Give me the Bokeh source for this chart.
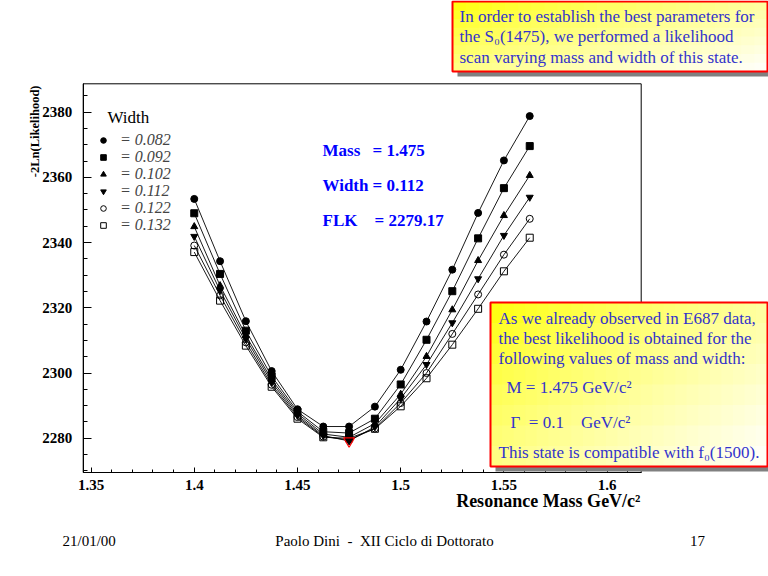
from bokeh.plotting import figure
from bokeh.models import (Label, Legend, LegendItem, BoxAnnotation,
                          SingleIntervalTicker, NumeralTickFormatter)
from bokeh.embed import file_html
from bokeh.resources import INLINE
import numpy as np

# scan points (resonance mass, GeV/c^2) and -2 ln(L) for each width hypothesis
mass = [1.4, 1.4125, 1.425, 1.4375, 1.45, 1.4625, 1.475,
        1.4875, 1.5, 1.5125, 1.525, 1.5375, 1.55, 1.5625]
w082 = [2353.4, 2334.3, 2315.9, 2300.6, 2288.9, 2283.6, 2283.6,
        2289.7, 2301.0, 2315.8, 2331.7, 2349.1, 2365.2, 2378.8]
w092 = [2349.0, 2330.4, 2313.0, 2299.0, 2288.2, 2282.0, 2281.6,
        2286.0, 2296.5, 2310.2, 2325.1, 2341.3, 2356.7, 2369.6]
w102 = [2344.9, 2326.8, 2311.5, 2298.0, 2287.6, 2281.3, 2280.3,
        2284.5, 2293.5, 2305.1, 2319.4, 2334.5, 2348.3, 2360.6]
w112 = [2341.9, 2325.3, 2310.5, 2297.2, 2287.0, 2280.8, 2279.17,
        2283.5, 2292.2, 2302.6, 2315.4, 2328.9, 2342.2, 2353.9]
w122 = [2339.1, 2323.8, 2309.4, 2296.4, 2286.5, 2280.5, 2279.5,
        2283.0, 2290.8, 2300.0, 2312.0, 2324.1, 2336.3, 2347.3]
w132 = [2337.1, 2322.2, 2308.4, 2295.8, 2286.0, 2280.3, 2280.0,
        2282.9, 2289.8, 2298.4, 2308.7, 2319.7, 2331.2, 2341.5]
widths = ["0.082", "0.092", "0.102", "0.112", "0.122", "0.132"]
series = [w082, w092, w102, w112, w122, w132]

# marker style per series
markers = ["circle", "square", "triangle", "inverted_triangle", "circle", "square"]
filled = [True, True, True, True, False, False]

SERIF = "Liberation Serif"
BOXBLUE = "#3333CC"
NB = "\u00a0"

# the plot box (data limits) and where it sits on the slide (pixels)
X0, X1 = 1.3462, 1.6165
Y0, Y1 = 2269.5, 2388.7
BL, BR, BT, BB = 82.7, 640.7, 83.3, 472.0
W, H = 768, 576
# the frame is the whole canvas; extend the ranges out to its edges
kx = (X1 - X0) / (BR - BL)
ky = (Y1 - Y0) / (BB - BT)
xr = (X0 - BL * kx, X1 + (W - BR) * kx)
yr = (Y0 - (H - BB) * ky, Y1 + BT * ky)

p = figure(width=W, height=H, x_range=xr, y_range=yr,
           output_backend="svg", toolbar_location=None, min_border=0,
           min_border_left=0, min_border_right=0, min_border_top=0, min_border_bottom=0)
p.background_fill_color = "white"
p.border_fill_color = "white"
p.outline_line_color = None
p.xgrid.visible = False
p.ygrid.visible = False

# axes, ROOT style: ticks pointing into the box
p.xaxis.fixed_location = Y0
p.xaxis.bounds = (X0, X1)
p.yaxis.fixed_location = X0
p.yaxis.bounds = (Y0, Y1)
p.xaxis.ticker = SingleIntervalTicker(interval=0.05, num_minor_ticks=5)
p.xaxis.formatter = NumeralTickFormatter(format="0.[00]")
p.yaxis.ticker = SingleIntervalTicker(interval=20, num_minor_ticks=4)
for ax in (p.xaxis, p.yaxis):
    ax.axis_line_color = "black"
    ax.major_tick_line_color = "black"
    ax.minor_tick_line_color = "black"
    ax.major_tick_out = 0
    ax.minor_tick_out = 0
    ax.major_label_text_font = SERIF
    ax.major_label_text_font_style = "bold"
    ax.major_label_text_font_size = "15px"
    ax.major_label_text_color = "black"
p.xaxis.major_tick_in = 5
p.xaxis.minor_tick_in = 3
p.xaxis.major_label_standoff = 7
p.yaxis.major_tick_in = 8
p.yaxis.minor_tick_in = 4
p.yaxis.major_label_standoff = 11

# box around the plot area
p.add_layout(BoxAnnotation(left=X0, right=X1, bottom=Y0, top=Y1, fill_alpha=0,
                           line_color="black", line_width=1, line_alpha=1, level="underlay"))


# helpers: slide pixels -> screen units relative to the canvas bottom-left
def sx(X):
    return X


def sy(Y):
    return H - Y


# curves, one legend row per width
for i, (w, vals, m, f) in enumerate(zip(widths, series, markers, filled)):
    p.line(mass, vals, line_color="black", line_width=0.9)
    r = p.scatter(mass, vals, marker=m, size=7,
                  fill_color="black" if f else None,
                  line_color="black", line_width=1)
    row_y = 139.5 + 17.0 * i
    p.add_layout(Legend(items=[LegendItem(label="= " + w, renderers=[r])],
                        location=(sx(96), sy(row_y + 9.2)), glyph_width=14,
                        glyph_height=14, label_height=14, spacing=0, padding=0, margin=0,
                        label_standoff=10, label_text_font=SERIF,
                        label_text_font_style="italic", label_text_font_size="16px",
                        background_fill_alpha=0, border_line_alpha=0))

# best point
ib = int(np.argmin(w112))
p.scatter([mass[ib]], [w112[ib]], marker="inverted_triangle", size=11,
          fill_color=None, line_color="red", line_width=1.2)


def text(X, Y, s, size="17px", color="black", style="normal", align="left", angle=0):
    p.add_layout(Label(x=sx(X), y=sy(Y), x_units="screen", y_units="screen", text=s,
                       text_font=SERIF, text_font_size=size, text_color=color,
                       text_font_style=style, text_align=align,
                       text_baseline="middle", angle=angle))


def slide_box(x0, y0, x1, y1):
    scr = dict(left_units="screen", right_units="screen",
               top_units="screen", bottom_units="screen")
    p.add_layout(BoxAnnotation(left=sx(x0 + 5), right=sx(x1 + 5), top=sy(y0 + 5),
                               bottom=sy(y1 + 5), fill_color="#808080", fill_alpha=1,
                               line_alpha=0, **scr))
    nx, ny = 24, 8
    for i in range(nx):
        for j in range(ny):
            t = 0.55 * (i + 0.5) / nx + 0.45 * (j + 0.5) / ny
            b = int(255 * min(1.0, t) ** 0.8)
            a = x0 + (x1 - x0) * i / nx
            c = x0 + (x1 - x0) * (i + 1) / nx + 0.8
            d = y0 + (y1 - y0) * j / ny
            e = y0 + (y1 - y0) * (j + 1) / ny + 0.8
            p.add_layout(BoxAnnotation(left=sx(a), right=sx(min(c, x1)), top=sy(d),
                                       bottom=sy(min(e, y1)), fill_color="#ffff%02x" % b,
                                       fill_alpha=1, line_alpha=0, **scr))
    p.add_layout(BoxAnnotation(left=sx(x0), right=sx(x1), top=sy(y0), bottom=sy(y1),
                               fill_alpha=0, line_color="red", line_width=2,
                               line_alpha=1, **scr))


# axis titles
text(34, 85, "-2Ln(Likelihood)", size="12.5px", style="bold", align="right",
     angle=np.pi / 2)
text(640, 500, "Resonance Mass GeV/c\u00b2", size="18px", style="bold", align="right")

# legend header and fit result
text(107, 117, "Width")
text(322, 150, "Mass", color="blue", style="bold")
text(372, 150, "= 1.475", color="blue", style="bold")
text(322, 185, "Width", color="blue", style="bold")
text(372, 185, "= 0.112", color="blue", style="bold")
text(322, 220, "FLK", color="blue", style="bold")
text(374, 220, "= 2279.17", color="blue", style="bold")

# top note
slide_box(452, 1, 767, 71)
text(459, 16, "In order to establish the best parameters for", color=BOXBLUE)
text(459, 36, "the S\u2080(1475), we performed a likelihood", color=BOXBLUE)
text(459, 57, "scan varying mass and width of this state.", color=BOXBLUE)

# result note
slide_box(490, 302, 767, 466)
text(498, 318, "As we already observed in E687 data,", color=BOXBLUE)
text(498, 338, "the best likelihood is obtained for the", color=BOXBLUE)
text(498, 358, "following values of mass and width:", color=BOXBLUE)
text(506, 387, "M = 1.475 GeV/c\u00b2", color=BOXBLUE)
text(510, 422, "\u0393" + NB + " = 0.1" + NB * 3 + " GeV/c\u00b2", color=BOXBLUE)
text(498, 452, "This state is compatible with f\u2080(1500).", color=BOXBLUE)

# footer
text(62, 540, "21/01/00", size="15px")
text(384, 540, "Paolo Dini" + NB + " - " + NB + "XII Ciclo di Dottorato", size="15px",
     align="center")
text(697, 540, "17", size="15px", align="center")

open("out.html", "w").write(file_html(p, INLINE))
